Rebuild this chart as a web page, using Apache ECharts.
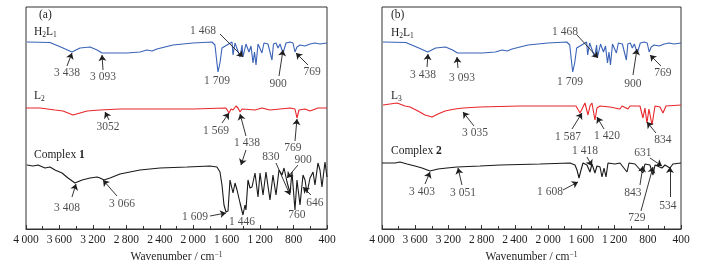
<!DOCTYPE html>
<html>
<head>
<meta charset="utf-8">
<script src="https://cdn.jsdelivr.net/npm/echarts@6/dist/echarts.min.js"></script>
<style>
  html, body { margin: 0; padding: 0; background: #fff; }
  #irChart { width: 706px; height: 272px; }
</style>
</head>
<body>
<div id="irChart"></div>
<script>
// wavenumber (cm-1), offset transmittance (a.u.)
const h2l1 = [
  [3990, 187], [3713, 186.5], [3557, 181], [3450, 177], [3354, 181], [3234, 182], [3150, 179],
  [3091, 176], [2995, 176], [2792, 176], [2636, 177], [2553, 179], [2493, 178], [2434, 180],
  [2242, 184], [2003, 186], [1775, 187], [1740, 184], [1716, 166], [1704, 157], [1680, 166],
  [1656, 181], [1596, 184], [1536, 187], [1524, 174], [1500, 186], [1440, 172], [1416, 184],
  [1405, 172], [1369, 185], [1333, 177], [1309, 183], [1285, 166], [1267, 177], [1249, 164],
  [1225, 185], [1178, 176], [1154, 186], [1106, 185], [1058, 169], [1040, 185], [1010, 186],
  [986, 181], [962, 185], [926, 176], [890, 186], [842, 187], [807, 186], [783, 177], [759, 182],
  [723, 184], [663, 183], [603, 185], [544, 186], [484, 185], [400, 186]
]
const l2 = [
  [4000, 121], [3833, 121], [3653, 119], [3557, 118], [3438, 114], [3354, 116], [3270, 118],
  [3115, 119], [2876, 120], [2000, 120], [1608, 121], [1572, 116], [1548, 120], [1524, 119],
  [1488, 123], [1464, 121], [1440, 117], [1416, 120], [1261, 119], [1178, 121], [1082, 119],
  [962, 120], [842, 121], [783, 120], [759, 111], [735, 119], [663, 120], [603, 118], [508, 121],
  [400, 121]
]
const complex1 = [
  [3990, 64], [3916, 63], [3856, 64], [3773, 61], [3713, 62], [3653, 59], [3569, 56], [3498, 51],
  [3414, 46], [3330, 49], [3234, 51], [3151, 52], [3115, 51], [3067, 49], [2995, 51], [2876, 55],
  [2637, 59], [2397, 61], [2074, 62], [1799, 63], [1716, 62], [1680, 57], [1656, 44], [1632, 24],
  [1608, 17], [1584, 18], [1560, 49], [1524, 36], [1500, 46], [1476, 39], [1440, 26], [1405, 14],
  [1381, 24], [1369, 19], [1345, 49], [1321, 41], [1297, 42], [1261, 56], [1225, 32], [1201, 56],
  [1165, 34], [1130, 57], [1082, 29], [1046, 54], [1010, 34], [974, 59], [938, 54], [914, 61],
  [878, 47], [842, 36], [819, 57], [783, 19], [759, 49], [723, 24], [687, 54], [663, 49], [639, 36],
  [603, 51], [567, 57], [544, 44], [508, 66], [484, 59], [460, 42], [424, 67], [400, 52]
]
const l3 = [
  [3988, 124], [3904, 125], [3819, 126], [3723, 123], [3663, 122], [3567, 118], [3482, 114],
  [3398, 112], [3326, 115], [3241, 118], [3121, 120], [3025, 121], [2820, 122], [2338, 123],
  [1736, 123], [1664, 123], [1616, 116], [1592, 120], [1556, 126], [1520, 114], [1496, 123],
  [1472, 126], [1436, 109], [1412, 121], [1375, 123], [1255, 122], [1135, 120], [1110, 123],
  [1038, 120], [1014, 123], [894, 123], [858, 111], [834, 121], [810, 106], [786, 120], [749, 104],
  [713, 123], [653, 122], [617, 116], [581, 123], [400, 124]
]
const complex2 = [
  [4000, 66], [3843, 66], [3783, 67], [3699, 65], [3603, 63], [3518, 61], [3422, 58], [3326, 60],
  [3217, 61], [3097, 62], [2820, 63], [2579, 64], [2098, 65], [1736, 66], [1676, 64], [1652, 59],
  [1628, 51], [1604, 59], [1580, 66], [1532, 64], [1496, 57], [1472, 65], [1436, 56], [1412, 63],
  [1375, 62], [1351, 52], [1327, 61], [1303, 52], [1279, 66], [1195, 65], [1135, 66], [1050, 57],
  [1026, 66], [954, 65], [858, 56], [834, 65], [774, 64], [737, 54], [713, 64], [629, 61],
  [593, 64], [533, 61], [497, 65], [400, 66]
]

// peak labels: text, text position (wavenumber, value), arrow from -> arrow to
const peaksA = [
  ['3 438', 3510, 156, 3510, 163, 3450, 176],
  ['3 093', 3079, 152, 3079, 159, 3091, 174],
  ['1 468', 1883, 198, 1680, 195, 1405, 172],
  ['1 709', 1716, 148],
  ['900', 986, 145, 974, 153, 926, 179],
  ['769', 579, 157, 627, 164, 771, 176],
  ['3052', 3019, 102, 3007, 109, 3055, 117],
  ['1 569', 1728, 98, 1656, 106, 1572, 116],
  ['1 438', 1357, 86, 1369, 93, 1440, 115],
  ['', 1357, 86, 1369, 79, 1429, 64],
  ['769', 807, 81, 783, 88, 759, 110],
  ['3 408', 3510, 21, 3450, 32, 3402, 45],
  ['3 066', 2852, 25, 2912, 33, 3079, 49],
  ['1 609', 1979, 12, 1799, 13, 1608, 16],
  ['1 446', 1417, 7],
  ['830', 1070, 72, 1010, 66, 842, 34],
  ['900', 687, 69, 747, 64, 878, 51],
  ['760', 759, 14],
  ['646', 544, 26, 592, 34, 687, 42]
]
const peaksB = [
  ['3 438', 3506, 154, 3458, 162, 3446, 175],
  ['3 093', 3037, 151, 3085, 161, 3097, 172],
  ['1 468', 1797, 197, 1652, 194, 1399, 171],
  ['1 709', 1736, 147],
  ['900', 978, 145, 978, 154, 930, 180],
  ['769', 617, 156, 641, 163, 773, 174],
  ['3 035', 2880, 96, 2892, 103, 3025, 117],
  ['1 587', 1761, 92, 1712, 100, 1592, 116],
  ['1 420', 1291, 93, 1327, 100, 1412, 112],
  ['834', 617, 89, 701, 96, 810, 107],
  ['1 418', 1556, 78, 1532, 72, 1472, 63],
  ['631', 858, 76, 774, 71, 629, 63],
  ['3 403', 3518, 37, 3482, 45, 3422, 57],
  ['3 051', 3025, 36, 3037, 44, 3085, 61],
  ['1 608', 1977, 37, 1821, 39, 1640, 47],
  ['843', 978, 36, 894, 44, 858, 63],
  ['729', 930, 11, 882, 18, 737, 62],
  ['534', 557, 23, 533, 32, 533, 62]
]

const serif = '"Liberation Serif", "DejaVu Serif", serif'
const ink = '#1e1e1e'
const fs = 11.5

const chart = echarts.init(document.getElementById('irChart'))

function fmtWn(v) {
  return v >= 1000 ? Math.floor(v / 1000) + '\u2009' + String(v % 1000).padStart(3, '0') : String(v)
}

function makeX(idx) {
  return {
    type: 'value', gridIndex: idx, inverse: true, min: 400, max: 4000, interval: 400,
    name: 'Wavenumber / cm{sup|\u22121}', nameLocation: 'middle', nameGap: 20,
    nameTextStyle: {
      fontFamily: serif, fontSize: fs, color: ink,
      rich: { sup: { fontFamily: serif, fontSize: 7.5, color: ink, verticalAlign: 'top', padding: [0, 0, 4, 0] } }
    },
    axisLine: { lineStyle: { color: '#333', width: 1 } },
    axisTick: { inside: true, length: 4, lineStyle: { color: '#333' } },
    minorTick: { show: true, splitNumber: 2, length: 3, lineStyle: { color: '#333' } },
    splitLine: { show: false },
    axisLabel: { fontFamily: serif, fontSize: fs, color: ink, margin: 5, formatter: fmtWn }
  }
}

function trace(data, color, idx) {
  return {
    type: 'line', xAxisIndex: idx, yAxisIndex: idx, data: data, showSymbol: false,
    lineStyle: { color: color, width: 1.1 }, silent: true
  }
}

function peakSeries(list, idx) {
  const arrows = list.filter(p => p.length > 3).map(p => [{ coord: [p[3], p[4]] }, { coord: [p[5], p[6]] }])
  return {
    type: 'scatter', xAxisIndex: idx, yAxisIndex: idx, symbolSize: 0, silent: true,
    data: list.filter(p => p[0]).map(p => [p[1], p[2], p[0]]),
    label: {
      show: true, position: 'inside', formatter: p => p.value[2],
      fontFamily: serif, fontSize: fs, color: ink
    },
    markLine: {
      silent: true, symbol: ['none', 'arrow'], symbolSize: 6,
      lineStyle: { color: ink, width: 0.9, type: 'solid' },
      label: { show: false }, emphasis: { disabled: true },
      data: arrows
    }
  }
}

const nameRich = {
  n: { fontFamily: serif, fontSize: fs, color: ink, lineHeight: 14 },
  s: { fontFamily: serif, fontSize: 7.5, color: ink, lineHeight: 14, verticalAlign: 'bottom' },
  b: { fontFamily: serif, fontSize: fs, color: ink, fontWeight: 'bold', lineHeight: 14 }
}
function tag(x, y, text) {
  return { type: 'text', left: x, top: y, style: { text: text, rich: nameRich, fill: ink, font: fs + 'px ' + serif } }
}

const option = {
  animation: false,
  grid: [
    { left: 26, top: 7, width: 301, height: 222, show: true, borderColor: '#333', borderWidth: 1 },
    { left: 382, top: 7, width: 299, height: 222, show: true, borderColor: '#333', borderWidth: 1 }
  ],
  xAxis: [makeX(0), makeX(1)],
  yAxis: [
    { type: 'value', gridIndex: 0, min: 0, max: 222, show: false },
    { type: 'value', gridIndex: 1, min: 0, max: 222, show: false }
  ],
  graphic: [
    tag(39, 9, '{n|(a)}'),
    tag(34, 26, '{n|H}{s|2}{n|L}{s|1}'),
    tag(34, 90, '{n|L}{s|2}'),
    tag(34, 149, '{n|Complex }{b|1}'),
    tag(391, 9, '{n|(b)}'),
    tag(391, 27, '{n|H}{s|2}{n|L}{s|1}'),
    tag(391, 90, '{n|L}{s|3}'),
    tag(391, 145, '{n|Complex }{b|2}')
  ],
  series: [
    trace(h2l1, '#3a63b8', 0),
    trace(l2, '#e8262a', 0),
    trace(complex1, '#1a1a1a', 0),
    peakSeries(peaksA, 0),
    trace(h2l1, '#3a63b8', 1),
    trace(l3, '#e8262a', 1),
    trace(complex2, '#1a1a1a', 1),
    peakSeries(peaksB, 1)
  ]
}
chart.setOption(option)

window.addEventListener('resize', () => {
  chart.resize()
})
</script>
</body>
</html>
